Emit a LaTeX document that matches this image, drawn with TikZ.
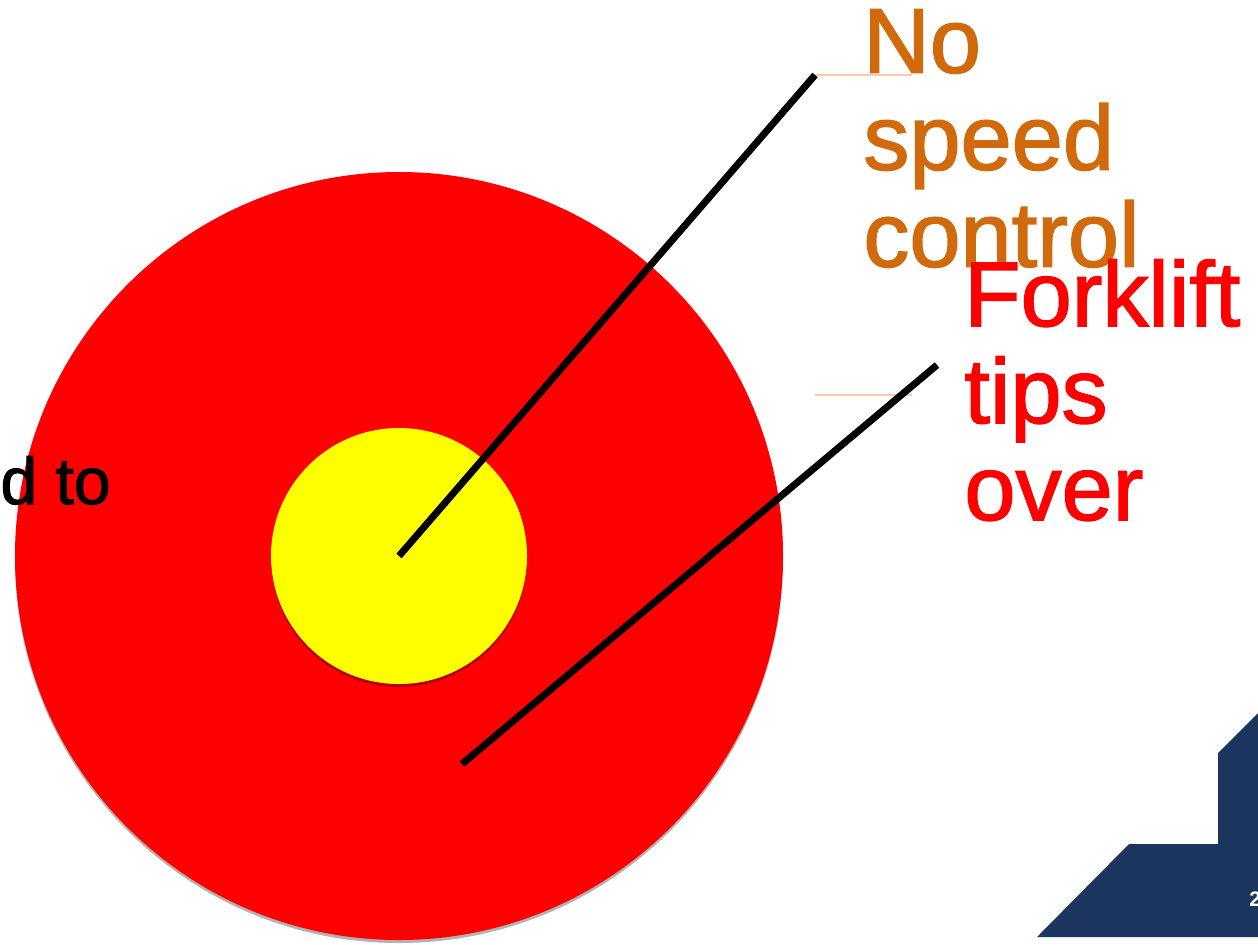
\documentclass[tikz,border=0pt]{standalone}
\usepackage{fontspec}
\setmainfont{Liberation Sans}
\newfontfamily\slidefont[FakeBold=1.6]{Liberation Sans}
\usetikzlibrary{shadows}
\definecolor{labelorange}{RGB}{209,106,13}
\definecolor{slidenavy}{RGB}{28,53,94}
\definecolor{leadpeach}{RGB}{248,203,173}
\definecolor{ringred}{RGB}{255,0,0}
\definecolor{ringyellow}{RGB}{255,255,0}

\begin{document}
\begin{tikzpicture}[x=0.5pt,y=-0.5pt]
  % Styles for the target rings and pointers
  \tikzset{ring/.style={circle, inner sep=0pt, drop shadow={shadow xshift=0pt, shadow yshift=-1.5pt, opacity=0.3, fill=black}}}
  \tikzset{pointer/.style={line width=3.5pt, black}}
  \tikzset{leader/.style={line width=0.6pt, leadpeach}}
  \tikzset{bigtext/.style={align=left, inner sep=0pt, anchor=north west, font=\slidefont\fontsize{46}{48.5}\selectfont}}

  \useasboundingbox (0,0) rectangle (1258,944);

  % rings
  \node[ring, fill=ringred, minimum size=384pt] (outer) at (399,556) {};
  \node[ring, fill=ringyellow, minimum size=128pt] (inner) at (399,556) {};

  % cut-off label on the left
  \node[anchor=base east, inner sep=0pt, font=\slidefont\fontsize{33}{40}\selectfont] (cutlabel) at (111,504) {d to};

  % pointers
  \coordinate (tipA) at (815,75);
  \coordinate (leadA) at (912,75);
  \coordinate (footB) at (462,764);
  \coordinate (tipB) at (937,365);
  \coordinate (leadBstart) at (815,395);
  \coordinate (leadBend) at (912,395);
  \draw[leader] (tipA) -- (leadA);
  \draw[leader] (leadBstart) -- (leadBend);
  \draw[pointer] (inner.center) -- (tipA);
  \draw[pointer] (footB) -- (tipB);

  % labels
  \node[bigtext, text=labelorange] (speed) at (863,9) {No\\speed\\control};
  \node[bigtext, text=ringred] (forklift) at (964,259) {Forklift\\tips\\over};

  % corner band
  \fill[slidenavy] (1258,713) -- (1218,753) -- (1218,844) -- (1129,844) -- (1037,937) -- (1258,937) -- cycle;
  \node[anchor=base west, inner sep=0pt, text=white, font=\fontsize{10.5}{12}\selectfont\bfseries] (pagenum) at (1249,906) {2};
\end{tikzpicture}
\end{document}
